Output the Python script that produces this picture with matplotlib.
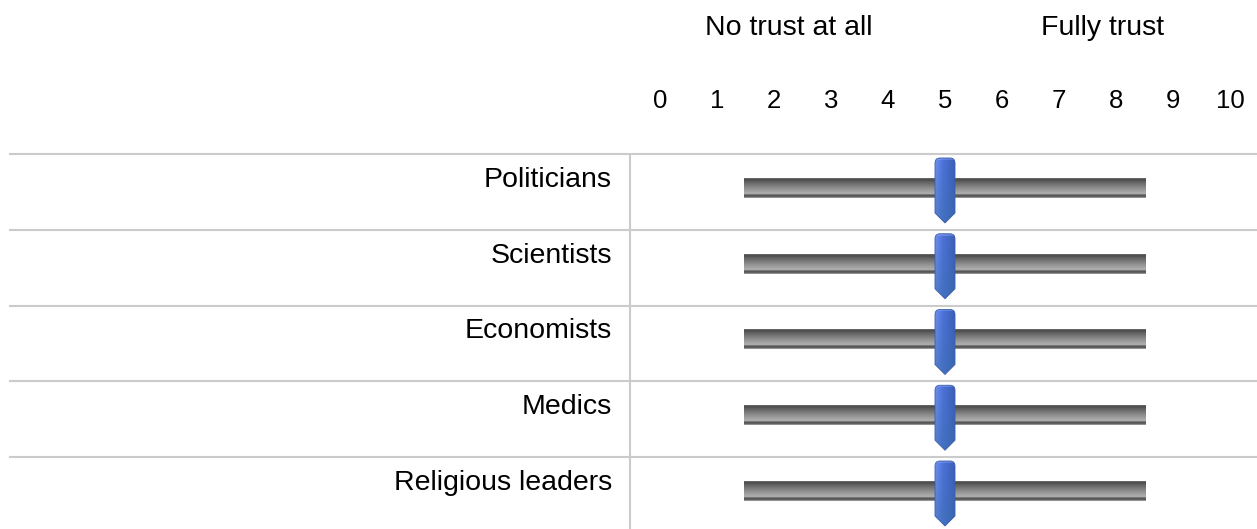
import numpy as np
import matplotlib.pyplot as plt
import matplotlib.transforms as mtransforms
from matplotlib.path import Path
from matplotlib.patches import PathPatch
from matplotlib.colors import LinearSegmentedColormap, to_rgb

plt.rcParams['font.family'] = ['Liberation Sans', 'DejaVu Sans']

# --- data ---
groups = ['Politicians', 'Scientists', 'Economists', 'Medics', 'Religious leaders']
trust_values = [5, 5, 5, 5, 5]
scale_ticks = list(range(0, 11))
anchor_labels = ['No trust at all', 'Fully trust']
anchor_positions = [2.26, 7.77]
track_range = (1.47, 8.51)

# --- canvas: x in scale units, y in row units ---
W, H, DPI = 1257, 529, 100
PX_X = 57.0      # pixels per scale unit
X0 = 660         # pixel of value 0
PX_Y = 75.75     # pixels per row
Y0 = 192         # pixel of first row centre

fig = plt.figure(figsize=(W / DPI, H / DPI), dpi=DPI)
ax = fig.add_axes([0, 0, 1, 1])
xlim = (-X0 / PX_X, (W - X0) / PX_X)
ylim = ((H - Y0) / PX_Y, -Y0 / PX_Y)
ax.axis('off')

grid_c = '#cbcbcb'
n = len(groups)

# table lines
for i in range(n):
    ax.axhline(i - 0.5, xmin=10 / W, xmax=1, color=grid_c, lw=1.5)
ax.vlines(-30 / PX_X, -0.5, ylim[0], color=grid_c, lw=1.5)

# header
for lab, pos in zip(anchor_labels, anchor_positions):
    ax.text(pos, -157 / PX_Y, lab, ha='center', va='baseline', fontsize=20.5)
for t in scale_ticks:
    ax.text(t, -84 / PX_Y, str(t), ha='center', va='baseline', fontsize=18.5)

# track gradient (top -> bottom)
track_cmap = LinearSegmentedColormap.from_list('track', [
    (0.0, '#707070'), (0.06, '#484848'), (0.16, '#5e5e5e'),
    (0.50, '#8e8e8e'), (0.80, '#b2b2b2'), (0.85, '#5c5c5c'),
    (0.93, '#505050'), (1.0, '#a4a4a4')])
track_img = np.linspace(0, 1, 40).reshape(-1, 1)

# thumb shape in display pixels, relative to centre
r = 5
verts = [(-10, -21), (-10, 34 - r), (-10, 34), (-10 + r, 34), (10 - r, 34),
         (10, 34), (10, 34 - r), (10, -21), (0, -31), (-10, -21)]
codes = [Path.MOVETO, Path.LINETO, Path.CURVE3, Path.CURVE3, Path.LINETO,
         Path.CURVE3, Path.CURVE3, Path.LINETO, Path.LINETO, Path.CLOSEPOLY]
thumb_path = Path(verts, codes)

# thumb colour image: horizontal shading + vertical tint
cols = np.linspace(0, 1, 32)
left, mid, right = np.array(to_rgb('#7393f0')), np.array(to_rgb('#4d72dc')), np.array(to_rgb('#3a5cb2'))
row_rgb = np.where(cols[:, None] < 0.4,
                   left + (mid - left) * (cols[:, None] / 0.4),
                   mid + (right - mid) * ((cols[:, None] - 0.4) / 0.6))
vert = np.linspace(0, 1, 70)[:, None, None]
bottom_tint = np.array(to_rgb('#3a6fa8'))
thumb_rgb = row_rgb[None, :, :] * (1 - 0.55 * vert) + bottom_tint * 0.55 * vert
thumb_rgb[:3] = thumb_rgb[:3] * 0.6 + 0.4 * np.array(to_rgb('#9fb4f2'))

for i, (name, val) in enumerate(zip(groups, trust_values)):
    ax.text(-48 / PX_X, i - 5 / PX_Y, name, ha='right', va='baseline', fontsize=20.5)

    ax.imshow(track_img, cmap=track_cmap, aspect='auto', interpolation='bilinear',
              extent=(track_range[0], track_range[1], i + 6 / PX_Y, i - 14 / PX_Y), zorder=2)

    trans = mtransforms.Affine2D() + mtransforms.ScaledTranslation(val, i, ax.transData)
    patch = PathPatch(thumb_path, transform=trans, facecolor='none',
                      edgecolor='#3a5db0', lw=0.6, zorder=4)
    ax.add_patch(patch)
    im = ax.imshow(thumb_rgb, aspect='auto', interpolation='bilinear', zorder=3,
                   extent=(val - 11 / PX_X, val + 11 / PX_X, i + 32 / PX_Y, i - 35 / PX_Y))
    im.set_clip_path(patch)

ax.set_xlim(*xlim)
ax.set_ylim(*ylim)

fig.savefig('out.png', dpi=DPI)
